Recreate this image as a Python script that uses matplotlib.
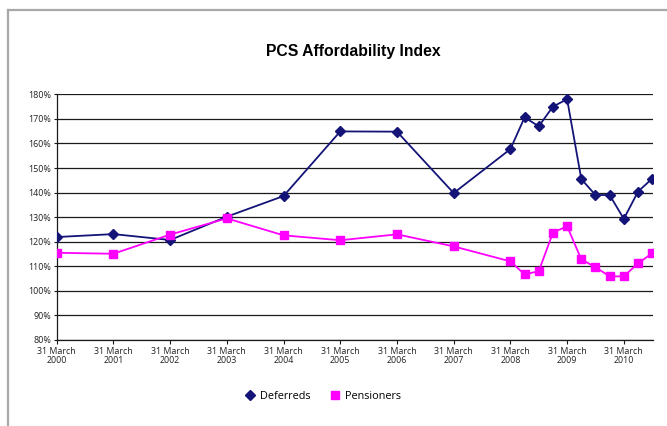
import matplotlib
matplotlib.use("Agg")
import matplotlib.pyplot as plt
from matplotlib.lines import Line2D
from matplotlib.ticker import FuncFormatter

# Data (x as fractional years)
x_dates = [2000, 2001, 2002, 2003, 2004, 2005, 2006, 2007, 2008, 2008.25, 2008.5,
           2008.75, 2009, 2009.25, 2009.5, 2009.75, 2010, 2010.25, 2010.5]
deferreds = [121.9, 123.1, 120.7, 130.2, 138.6, 164.9, 164.8, 139.8, 157.7, 170.6, 167.0,
             175.0, 178.0, 145.5, 139.0, 139.0, 129.3, 140.4, 145.7]
pensioners = [115.5, 115.1, 122.9, 129.5, 122.6, 120.6, 123.0, 118.1, 112.0, 106.7, 108.0,
              123.7, 126.3, 112.8, 109.6, 105.9, 105.9, 111.2, 115.3]
tick_years = [2000, 2001, 2002, 2003, 2004, 2005, 2006, 2007, 2008, 2009, 2010]
tick_labels = ["31 March\n%d" % y for y in tick_years]
y_ticks = list(range(80, 181, 10))

NAVY = "#141478"
MAGENTA = "#FF00FF"
FONT = ["Open Sans", "DejaVu Sans"]

fig = plt.figure(figsize=(6.67, 4.26), dpi=100)
ax = fig.add_axes([0.085, 0.2019, 0.8945, 0.5767])

ax.plot(x_dates, deferreds, color=NAVY, lw=1.3, marker="D", markersize=5.5, zorder=3)
ax.plot(x_dates, pensioners, color=MAGENTA, lw=1.3, marker="s", markersize=6, zorder=3)

ax.set_xlim(2000, 2010.52)
ax.set_ylim(80, 180)
ax.set_yticks(y_ticks)
ax.yaxis.set_major_formatter(FuncFormatter(lambda v, p: "%d%%" % v))
ax.set_xticks(tick_years)
ax.set_xticklabels(tick_labels)
for lab in ax.get_xticklabels() + ax.get_yticklabels():
    lab.set_family(FONT)
    lab.set_fontsize(6.4)
    lab.set_color("#222222")
    lab.set_linespacing(1.0)

ax.grid(axis="y", color="#1a1a1a", lw=0.9, zorder=0)
ax.set_axisbelow(True)
for s in ["top", "right"]:
    ax.spines[s].set_visible(False)
for s in ["left", "bottom"]:
    ax.spines[s].set_color("#1a1a1a")
    ax.spines[s].set_linewidth(0.9)
ax.tick_params(axis="x", length=3, width=0.8, color="#1a1a1a", pad=2)
ax.tick_params(axis="y", length=2, width=0.8, color="#1a1a1a", pad=2)

fig.text(0.529, 0.878, "PCS Affordability Index", ha="center", va="center",
         fontsize=11.3, fontweight="bold", family=["Liberation Sans", "DejaVu Sans"])

handles = [Line2D([], [], color=NAVY, marker="D", ls="none", markersize=5),
           Line2D([], [], color=MAGENTA, marker="s", ls="none", markersize=5.5)]
leg = fig.legend(handles, ["Deferreds", "Pensioners"], loc="center",
                 bbox_to_anchor=(0.484, 0.069), ncol=2, frameon=False,
                 prop={"family": FONT, "size": 7.8}, handletextpad=0.45,
                 columnspacing=1.7, handlelength=1.0)

# Outer border: top and left gray lines
fig.add_artist(Line2D([0.012, 1.0], [0.977, 0.977], color="#a8a8a8", lw=1.6,
                      transform=fig.transFigure))
fig.add_artist(Line2D([0.012, 0.012], [0.0, 0.977], color="#a8a8a8", lw=1.6,
                      transform=fig.transFigure))

fig.savefig("out.png", dpi=100)
